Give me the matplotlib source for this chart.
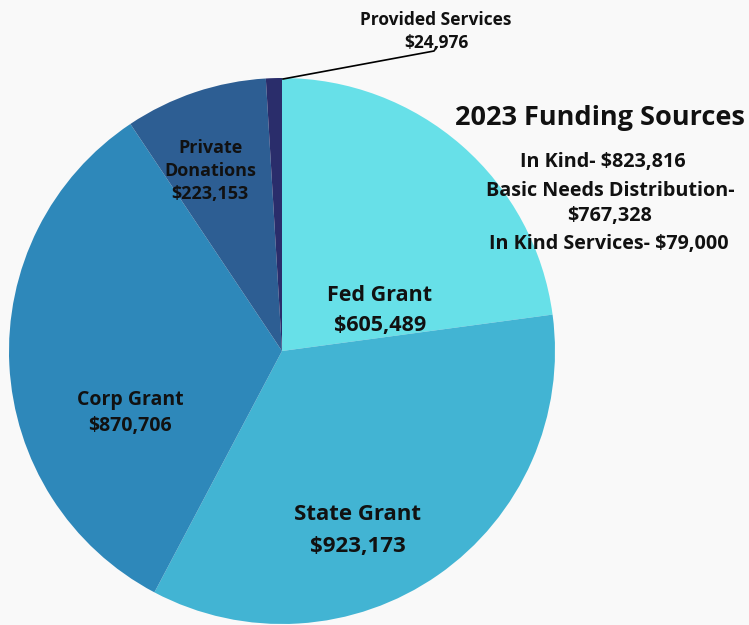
import matplotlib
matplotlib.use("Agg")
import matplotlib.pyplot as plt

# données
labels = ["Fed Grant", "State Grant", "Corp Grant", "Private\nDonations", "Provided Services"]
values = [605489, 923173, 870706, 223153, 24976]
colors = ["#67E0E8", "#42B4D3", "#2E88BA", "#2D5E93", "#2A2D6B"]
extra_lines = ["In Kind- $823,816", "Basic Needs Distribution-", "$767,328", "In Kind Services- $79,000"]

BG = "#F9F9F9"
W, H = 749, 625
plt.rcParams["font.family"] = ["Open Sans", "DejaVu Sans"]

fig = plt.figure(figsize=(W / 100, H / 100), dpi=100, facecolor=BG)
ax = fig.add_axes([0, 0, 1, 1])
ax.set_facecolor(BG)

cx, cy, r = 282, H - 351, 273
ax.pie(values, colors=colors, startangle=90, counterclock=False,
       center=(cx, cy), radius=r, frame=True,
       wedgeprops=dict(linewidth=0))
ax.set_xlim(0, W)
ax.set_ylim(0, H)
ax.set_aspect("equal")
ax.axis("off")

def lab(x, y0, step, lines, size):
    for i, s in enumerate(lines):
        ax.text(x, H - (y0 + i * step), s, ha="center", va="center_baseline",
                fontsize=size, fontweight="bold", color="#111111")

# étiquettes des parts
lab(380, 293, 30, [labels[0], f"${values[0]:,}"], 15.5)
lab(358, 512, 32, [labels[1], f"${values[1]:,}"], 16)
lab(130, 398, 26, [labels[2], f"${values[2]:,}"], 14)
lab(210, 146, 23, labels[3].split("\n") + [f"${values[3]:,}"], 13)
lab(436, 18, 23, [labels[4], f"${values[4]:,}"], 12.5)

# ligne de rappel
ax.plot([283, 434, 437], [H - 79, H - 51, H - 47], color="black", lw=1.2)

# titre et détails
ax.text(600, H - 115, "2023 Funding Sources", ha="center", va="center_baseline",
        fontsize=19.5, fontweight="bold", color="#111111")
ys = [160, 188, 213, 242]
xs = [603, 610, 610, 609]
for x, y, s in zip(xs, ys, extra_lines):
    ax.text(x, H - y, s, ha="center", va="center_baseline", fontsize=14.2,
            fontweight="bold", color="#111111")

fig.savefig("out.png", dpi=100, facecolor=BG)
